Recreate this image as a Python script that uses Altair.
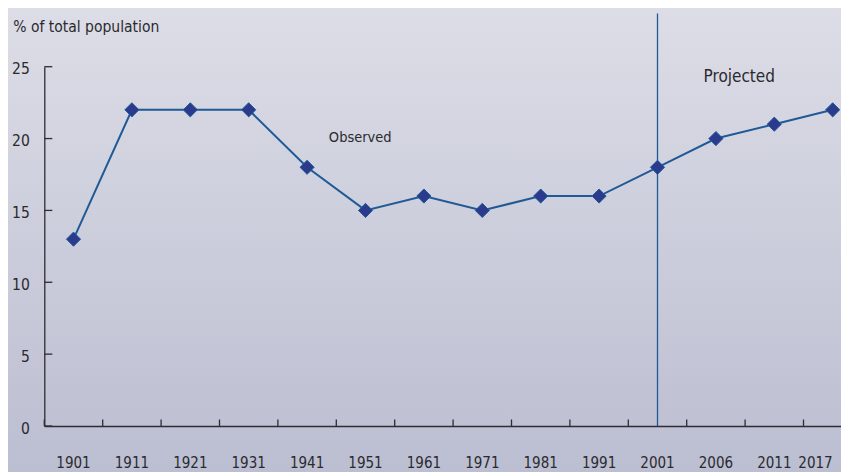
import altair as alt
import pandas as pd

# ---- data ----
years = ["1901", "1911", "1921", "1931", "1941", "1951", "1961",
         "1971", "1981", "1991", "2001", "2006", "2011", "2017"]
share = [13, 22, 22, 22, 18, 15, 16, 15, 16, 16, 18, 20, 21, 22]
y_tick_values = [0, 5, 10, 15, 20, 25]
divider_year = "2001"
y_title = "% of total population"
label_observed = "Observed"
label_projected = "Projected"

# ---- layout (pixels) ----
BAND = 58.4
W = 796.7
H = 359.3
PAD_L, PAD_T, PAD_B = 36.3, 58.7, 46.0
FONT = "DejaVu Sans Condensed, Liberation Sans Narrow, sans-serif"
TXT = "#2a2a2e"
AXIS = "#2d2d33"
LINE = "#1f5a96"
MARKER = "#2b3a8c"

df = pd.DataFrame({"year": years, "share": share})
ticks_df = pd.DataFrame({"v": y_tick_values})

xscale = alt.Scale(type="band", domain=years, range=[0, BAND * len(years)],
                   paddingInner=0, paddingOuter=0)
yscale = alt.Scale(domain=[0, 25], nice=False, zero=True)

last_label_test = "datum.value == '%s'" % years[-1]
x_axis = alt.Axis(title=None, ticks=False, tickSize=0, labelPadding=41.5,
                  labelBaseline="alphabetic", labelFont=FONT, labelFontSize=15,
                  labelAlign=alt.condition(last_label_test, alt.value("right"),
                                           alt.value("center")),
                  labelColor=TXT, domainColor=AXIS, domainWidth=1.3,
                  labelAngle=0, grid=False, zindex=2)
y_axis = alt.Axis(values=y_tick_values, ticks=False, tickSize=0, labelPadding=15,
                  labelFont=FONT, labelFontSize=15.5, labelColor=TXT, labelOffset=2,
                  domainColor=AXIS, domainWidth=1.3, grid=False, zindex=2,
                  title=y_title, titleAngle=0, titleAlign="left",
                  titleBaseline="alphabetic", titleX=-31.6, titleY=-35,
                  titleFont=FONT, titleFontSize=15.5, titleFontWeight="normal",
                  titleColor=TXT)

bg = alt.Chart(pd.DataFrame({"a": [0]})).mark_rect(
    color=alt.Gradient(gradient="linear", x1=0, y1=0, x2=0, y2=1,
                       stops=[alt.GradientStop(color="#dcdde6", offset=0),
                              alt.GradientStop(color="#bbbdd1", offset=1)])
).encode(x=alt.value(-PAD_L), x2=alt.value(W + 40),
         y=alt.value(-PAD_T), y2=alt.value(H + PAD_B + 10))

base = alt.Chart(df)

line = base.mark_line(color=LINE, strokeWidth=2).encode(
    x=alt.X("year:N", scale=xscale, axis=x_axis, sort=years, bandPosition=0.5),
    y=alt.Y("share:Q", scale=yscale, axis=y_axis),
)

points = base.mark_point(shape="diamond", size=200, filled=True, fill=MARKER,
                         stroke=LINE, strokeWidth=1, opacity=1).encode(
    x=alt.X("year:N", sort=years, bandPosition=0.5),
    y=alt.Y("share:Q"),
)

xticks = base.mark_rule(color=AXIS, strokeWidth=1.3).encode(
    x=alt.X("year:N", sort=years, bandPosition=0),
    y=alt.value(H - 6.5), y2=alt.value(H),
)

yticks = alt.Chart(ticks_df).mark_rule(color=AXIS, strokeWidth=1.3).encode(
    y=alt.Y("v:Q"), x=alt.value(0), x2=alt.value(8),
)

divider = alt.Chart(pd.DataFrame({"year": [divider_year]})).mark_rule(
    color=LINE, strokeWidth=1.3).encode(
    x=alt.X("year:N", sort=years, bandPosition=0.5),
    y=alt.datum(0), y2=alt.datum(28.7),
)

obs = alt.Chart(pd.DataFrame({"year": ["1951"], "t": [label_observed]})).mark_text(
    font=FONT, fontSize=14.5, color=TXT, baseline="alphabetic", align="center").encode(
    x=alt.X("year:N", sort=years, bandPosition=0.41),
    y=alt.datum(19.78), text="t:N",
)

proj = alt.Chart(pd.DataFrame({"year": ["2006"], "t": [label_projected]})).mark_text(
    font=FONT, fontSize=17, color=TXT, baseline="alphabetic", align="center").encode(
    x=alt.X("year:N", sort=years, bandPosition=0.9),
    y=alt.datum(23.96), text="t:N",
)

chart = alt.layer(bg, line, divider, xticks, yticks, points, obs, proj).properties(
    width=W, height=H,
    autosize=alt.AutoSizeParams(type="none"),
    padding={"left": PAD_L, "top": PAD_T, "right": 0, "bottom": PAD_B},
).configure_view(stroke=None).configure(background="#cfd0dd")

chart.save("out.html", embed_options={"renderer": "svg", "actions": False})
